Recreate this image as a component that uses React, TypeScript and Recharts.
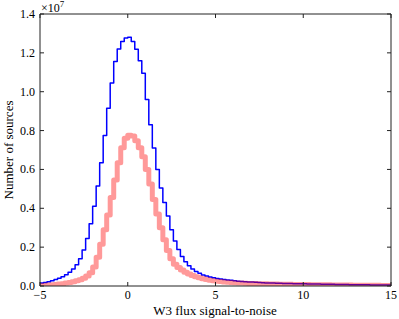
import React from "react";
import { LineChart, Line, XAxis, YAxis } from "recharts";

// Histogram bin edges (W3 flux signal-to-noise)
const binEdges = [
  -5.0, -4.8, -4.6, -4.4, -4.2, -4.0, -3.8, -3.6, -3.4, -3.2,
  -3.0, -2.8, -2.6, -2.4, -2.2, -2.0, -1.8, -1.6, -1.4, -1.2,
  -1.0, -0.8, -0.6, -0.4, -0.2, 0.0, 0.2, 0.4, 0.6, 0.8,
  1.0, 1.2, 1.4, 1.6, 1.8, 2.0, 2.2, 2.4, 2.6, 2.8,
  3.0, 3.2, 3.4, 3.6, 3.8, 4.0, 4.2, 4.4, 4.6, 4.8,
  5.0, 5.2, 5.4, 5.6, 5.8, 6.0, 6.2, 6.4, 6.6, 6.8,
  7.0, 7.2, 7.4, 7.6, 7.8, 8.0, 8.2, 8.4, 8.6, 8.8,
  9.0, 9.2, 9.4, 9.6, 9.8, 10.0, 10.2, 10.4, 10.6, 10.8,
  11.0, 11.2, 11.4, 11.6, 11.8, 12.0, 12.2, 12.4, 12.6, 12.8,
  13.0, 13.2, 13.4, 13.6, 13.8, 14.0, 14.2, 14.4, 14.6, 14.8,
  15.0,
];

// Counts per bin, in units of 1e7
const allSources = [
  0.015, 0.018, 0.022, 0.027, 0.033, 0.040, 0.048, 0.058, 0.071, 0.088,
  0.110, 0.140, 0.185, 0.245, 0.320, 0.410, 0.515, 0.635, 0.775, 0.915,
  1.045, 1.155, 1.220, 1.258, 1.277, 1.280, 1.258, 1.218, 1.160, 1.095,
  0.960, 0.830, 0.710, 0.600, 0.505, 0.430, 0.360, 0.290, 0.232, 0.188,
  0.152, 0.125, 0.104, 0.088, 0.075, 0.065, 0.057, 0.051, 0.046, 0.042,
  0.039, 0.036, 0.033, 0.031, 0.029, 0.027, 0.025, 0.023, 0.022, 0.021,
  0.020, 0.019, 0.018, 0.017, 0.016, 0.0155, 0.015, 0.0145, 0.014, 0.0135,
  0.013, 0.0125, 0.012, 0.0117, 0.0113, 0.011, 0.0106, 0.0103, 0.010, 0.0097,
  0.0094, 0.0091, 0.0088, 0.0085, 0.0082, 0.0079, 0.0076, 0.0073, 0.0070, 0.0068,
  0.0065, 0.0063, 0.0061, 0.0059, 0.0057, 0.0055, 0.0053, 0.0051, 0.0049, 0.0047,
];

const subsetSources = [
  0.003, 0.004, 0.005, 0.006, 0.008, 0.010, 0.012, 0.015, 0.018, 0.022,
  0.027, 0.032, 0.040, 0.051, 0.068, 0.098, 0.148, 0.215, 0.290, 0.365,
  0.455, 0.545, 0.635, 0.712, 0.760, 0.776, 0.772, 0.748, 0.712, 0.665,
  0.600, 0.525, 0.445, 0.370, 0.300, 0.238, 0.183, 0.140, 0.112, 0.095,
  0.082, 0.071, 0.062, 0.054, 0.047, 0.042, 0.037, 0.033, 0.030, 0.027,
  0.025, 0.023, 0.021, 0.019, 0.018, 0.017, 0.016, 0.015, 0.014, 0.0135,
  0.013, 0.0125, 0.012, 0.0115, 0.011, 0.0106, 0.0102, 0.0098, 0.0095, 0.0092,
  0.0089, 0.0086, 0.0083, 0.0080, 0.0077, 0.0074, 0.0071, 0.0068, 0.0066, 0.0064,
  0.0062, 0.0060, 0.0058, 0.0056, 0.0054, 0.0052, 0.0050, 0.0048, 0.0046, 0.0044,
  0.0042, 0.0040, 0.0038, 0.0036, 0.0035, 0.0034, 0.0033, 0.0032, 0.0031, 0.0030,
];

const xTicks = [-5, 0, 5, 10, 15];
const yTicks = [0, 0.2, 0.4, 0.6, 0.8, 1.0, 1.2, 1.4];

const data = binEdges.map((edge, i) => ({
  x: edge,
  all: allSources[Math.min(i, allSources.length - 1)],
  subset: subsetSources[Math.min(i, subsetSources.length - 1)],
}));

const FONT = "'Liberation Serif', 'DejaVu Serif', serif";
const AXIS = "#222";

const fmtX = (v: number) => (v < 0 ? "\u2212" + Math.abs(v) : String(v));

const BottomTick = (p: any) => (
  <g>
    <line x1={p.x} y1={p.y} x2={p.x} y2={p.y - 4} stroke={AXIS} strokeWidth={1} />
    <text x={p.x} y={p.y + 13} textAnchor="middle" fontFamily={FONT} fontSize={12} fill="#000">
      {fmtX(p.payload.value)}
    </text>
  </g>
);
const TopTick = (p: any) => (
  <line x1={p.x} y1={p.y} x2={p.x} y2={p.y + 4} stroke={AXIS} strokeWidth={1} />
);
const LeftTick = (p: any) => (
  <g>
    <line x1={p.x} y1={p.y} x2={p.x + 4} y2={p.y} stroke={AXIS} strokeWidth={1} />
    <text x={p.x - 5} y={p.y + 4} textAnchor="end" fontFamily={FONT} fontSize={12} fill="#000">
      {Number(p.payload.value).toFixed(1)}
    </text>
  </g>
);
const RightTick = (p: any) => (
  <line x1={p.x} y1={p.y} x2={p.x - 4} y2={p.y} stroke={AXIS} strokeWidth={1} />
);

export default function App() {
  return (
    <div style={{ position: "absolute", left: 0, top: 0, width: 399, height: 319, background: "#fff" }}>
      <LineChart width={399} height={319} data={data} margin={{ top: 13, right: 7, bottom: 0, left: 0 }}>
        <XAxis
          dataKey="x"
          type="number"
          domain={[-5, 15]}
          ticks={xTicks}
          allowDataOverflow
          height={33}
          tickSize={0}
          tickMargin={0}
          tickLine={false}
          axisLine={{ stroke: AXIS, strokeWidth: 1 }}
          tick={BottomTick}
          interval={0}
        />
        <XAxis
          xAxisId="top"
          orientation="top"
          dataKey="x"
          type="number"
          domain={[-5, 15]}
          ticks={xTicks}
          allowDataOverflow
          height={1}
          tickSize={0}
          tickMargin={0}
          tickLine={false}
          axisLine={{ stroke: AXIS, strokeWidth: 1 }}
          tick={TopTick}
          interval={0}
        />
        <YAxis
          type="number"
          domain={[0, 1.4]}
          ticks={yTicks}
          allowDataOverflow
          width={40}
          tickSize={0}
          tickMargin={0}
          tickLine={false}
          axisLine={{ stroke: AXIS, strokeWidth: 1 }}
          tick={LeftTick}
          interval={0}
        />
        <YAxis
          yAxisId="right"
          orientation="right"
          type="number"
          domain={[0, 1.4]}
          ticks={yTicks}
          allowDataOverflow
          width={1}
          tickSize={0}
          tickMargin={0}
          tickLine={false}
          axisLine={{ stroke: AXIS, strokeWidth: 1 }}
          tick={RightTick}
          interval={0}
        />
        <Line
          dataKey="all"
          type="stepAfter"
          stroke="#0000ff"
          strokeWidth={1.5}
          strokeLinejoin="round"
          dot={false}
          activeDot={false}
          isAnimationActive={false}
        />
        <Line
          dataKey="subset"
          xAxisId="top"
          yAxisId="right"
          type="stepAfter"
          stroke="#ff0000"
          strokeOpacity={0.4}
          strokeWidth={5}
          strokeLinejoin="round"
          dot={false}
          activeDot={false}
          isAnimationActive={false}
        />
        <text x={41} y={12} fontFamily={FONT} fontSize={12} fill="#000">
          ×10<tspan dy={-5} fontSize={9}>7</tspan>
        </text>
        <text x={215} y={315} textAnchor="middle" fontFamily={FONT} fontSize={13} fill="#000">
          W3 flux signal-to-noise
        </text>
        <text
          x={13}
          y={150}
          textAnchor="middle"
          transform="rotate(-90 13 150)"
          fontFamily={FONT}
          fontSize={13}
          fill="#000"
        >
          Number of sources
        </text>
      </LineChart>
    </div>
  );
}
